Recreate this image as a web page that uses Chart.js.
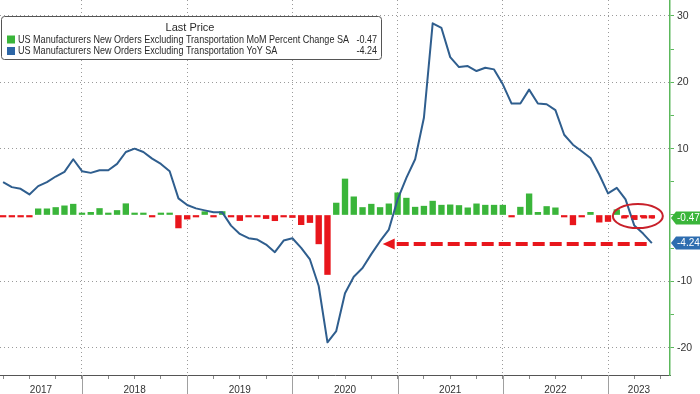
<!DOCTYPE html>
<html>
<head>
<meta charset="utf-8">
<script src="https://cdn.jsdelivr.net/npm/chart.js@4.4.1/dist/chart.umd.min.js"></script>
<style>
  html, body { margin: 0; padding: 0; background: #fff; }
  #wrap { width: 700px; height: 394px; }
</style>
</head>
<body>
<div id="wrap"><canvas id="chart" width="700" height="394"></canvas></div>
<script>
const years = ["2017", "2018", "2019", "2020", "2021", "2022", "2023"];
// x is counted in months from the start of 2017; first observation 3 months in
const firstMonth = 3;
const momChange = [
  -0.1, -0.15, -0.1, -0.15, 0.93, 0.93, 1.13, 1.38, 1.63, 0.3,
  0.4, 0.98, 0.05, 0.68, 1.7, 0.18, 0.22, -0.05, 0.15, 0.15,
  -1.95, -0.62, -0.1, 0.5, -0.27, 0.52, -0.3, -0.84, -0.24, -0.24,
  -0.54, -0.86, -0.14, -0.38, -1.46, -1.14, -4.35, -8.97, 1.8, 5.43,
  2.74, 1.13, 1.63, 1.13, 1.68, 3.34, 2.54, 1.18, 1.33, 2.09,
  1.48, 1.53, 1.43, 1.08, 1.68, 1.48, 1.48, 1.48, -0.05, 1.18,
  3.19, 0.4, 1.28, 1.08, -0.1, -1.48, -0.08, 0.4, -1.08, -0.98,
  0.8, -0.1, -0.7, -0.1, -0.47
];
const yoyChange = [
  4.95, 4.2, 3.95, 3.1, 4.35, 4.95, 5.8, 6.5, 8.4, 6.6,
  6.35, 6.75, 6.75, 7.7, 9.5, 10.0, 9.5, 8.5, 7.7, 6.6,
  2.5, 1.5, 1.0, 0.7, 0.4, 0.4, -1.6, -2.85, -3.5, -3.7,
  -4.45, -5.6, -3.85, -3.5, -4.95, -6.7, -10.7, -19.2, -17.5, -11.8,
  -9.3, -8.0, -5.9, -3.95, -2.2, 2.35, 5.6, 8.4, 14.65, 28.9,
  28.2, 23.8, 22.3, 22.45, 21.7, 22.2, 21.95, 19.7, 16.8, 16.8,
  18.9, 16.8, 16.7, 15.8, 12.1, 10.6, 9.6, 8.6, 6.1, 3.25,
  4.1, 2.35, -1.6, -2.8, -4.24
];
const seriesNames = [
  "US Manufacturers New Orders Excluding Transportation MoM Percent Change SA",
  "US Manufacturers New Orders Excluding Transportation YoY SA"
];
const yTickValues = [-20, -15, -10, -5, 0, 5, 10, 15, 20, 25, 30];

const X_MIN = 2.647, X_MAX = 79.07;
const Y_MIN = -24.12, Y_MAX = 32.41;

const GREEN = "#3ab53a";
const RED = "#e8161c";
const BLUE = "#2f5e8e";
const GRID = "#9a9a9a";
const NONE = "rgba(0,0,0,0)";
const FONT = '"Liberation Sans", Arial, sans-serif';

// year labels sit in the middle of the visible part of each year
const yearCenters = {};
years.forEach((yr, k) => {
  const start = Math.max(k * 12, X_MIN);
  const end = Math.min(k * 12 + 12, X_MAX);
  yearCenters[((start + end) / 2).toFixed(2)] = yr;
});
const xTickValues = [];
for (let m = 3; m <= X_MAX; m += 3) xTickValues.push(m);
Object.keys(yearCenters).forEach(k => {
  const v = parseFloat(k);
  if (!xTickValues.some(t => Math.abs(t - v) < 0.01)) xTickValues.push(v);
});
xTickValues.sort((a, b) => a - b);

const isBoundary = v => Math.abs(v % 12) < 0.01 && v > 0;
const isQuarter = v => Math.abs(v % 3) < 0.01;
const yearLabel = v => yearCenters[v.toFixed(2)] || "";
const tickVal = c => (c && c.tick ? c.tick.value : NaN);

const momPoints = momChange.map((v, i) => ({ x: firstMonth + i, y: v }));
const yoyPoints = yoyChange.map((v, i) => ({ x: firstMonth + i, y: v }));

Chart.defaults.font.family = FONT;
Chart.defaults.font.size = 10;
Chart.defaults.color = "#333";

const decorPlugin = {
  id: "decor",
  afterDatasetsDraw(chart) {
    const { ctx } = chart;
    const xs = chart.scales.x, ys = chart.scales.y;
    const n = momChange.length;
    const lastX = xs.getPixelForValue(firstMonth + n - 1);
    const momY = ys.getPixelForValue(momChange[n - 1]);
    const yoyY = ys.getPixelForValue(yoyChange[n - 1]);
    ctx.save();
    // short dashed line at last MoM
    ctx.strokeStyle = RED;
    ctx.lineWidth = 3;
    ctx.setLineDash([6, 4]);
    ctx.beginPath();
    ctx.moveTo(xs.getPixelForValue(firstMonth + n - 4.5), momY - 1);
    ctx.lineTo(lastX + 2, momY - 1);
    ctx.stroke();
    // circle round it
    ctx.setLineDash([]);
    ctx.strokeStyle = "#c8202a";
    ctx.lineWidth = 2;
    ctx.beginPath();
    ctx.ellipse(xs.getPixelForValue(firstMonth + n - 2.6), momY - 2, 25, 12, 0, 0, Math.PI * 2);
    ctx.stroke();
    // dashed arrow at last YoY
    const tipX = xs.getPixelForValue(firstMonth + 43.3);
    ctx.strokeStyle = RED;
    ctx.lineWidth = 4;
    ctx.setLineDash([12, 5]);
    ctx.beginPath();
    ctx.moveTo(tipX + 14, yoyY + 1);
    ctx.lineTo(lastX - 2, yoyY + 1);
    ctx.stroke();
    ctx.setLineDash([]);
    ctx.fillStyle = RED;
    ctx.beginPath();
    ctx.moveTo(tipX, yoyY + 1);
    ctx.lineTo(tipX + 12, yoyY - 4.5);
    ctx.lineTo(tipX + 12, yoyY + 6.5);
    ctx.closePath();
    ctx.fill();
    ctx.restore();
  },
  afterDraw(chart) {
    const { ctx, chartArea } = chart;
    const xs = chart.scales.x, ys = chart.scales.y;
    const n = momChange.length;
    ctx.save();
    // year separators through the label band
    ctx.strokeStyle = "#a0a0a0";
    ctx.lineWidth = 1;
    xTickValues.filter(isBoundary).forEach(v => {
      const x = Math.round(xs.getPixelForValue(v)) + 0.5;
      ctx.beginPath();
      ctx.moveTo(x, chartArea.bottom);
      ctx.lineTo(x, chart.height);
      ctx.stroke();
    });
    // last value tags on the right axis
    const tag = (value, color) => {
      const y = ys.getPixelForValue(value);
      const x0 = chartArea.right + 1;
      ctx.fillStyle = color;
      ctx.beginPath();
      ctx.moveTo(x0, y);
      ctx.lineTo(x0 + 5, y - 6.5);
      ctx.lineTo(chart.width, y - 6.5);
      ctx.lineTo(chart.width, y + 6.5);
      ctx.lineTo(x0 + 5, y + 6.5);
      ctx.closePath();
      ctx.fill();
      ctx.fillStyle = "#fff";
      ctx.font = "10px " + FONT;
      ctx.textAlign = "left";
      ctx.textBaseline = "middle";
      ctx.fillText(value.toFixed(2), x0 + 6, y + 0.5, chart.width - x0 - 6);
    };
    tag(momChange[n - 1], GREEN);
    tag(yoyChange[n - 1], "#2e6db0");

    // legend box
    ctx.fillStyle = "#fff";
    ctx.strokeStyle = "#555";
    ctx.lineWidth = 1;
    ctx.beginPath();
    ctx.roundRect(1.5, 16.5, 380, 43, 3);
    ctx.fill();
    ctx.stroke();
    ctx.fillStyle = "#2a2a2a";
    ctx.font = "11px " + FONT;
    ctx.textBaseline = "middle";
    ctx.textAlign = "center";
    ctx.fillText("Last Price", 190, 27.5);
    const sx = 331 / ctx.measureText(seriesNames[0]).width;
    const swatches = [GREEN, "#2d66a6"];
    const lastVals = [momChange[n - 1], yoyChange[n - 1]];
    seriesNames.forEach((name, k) => {
      const y = 39.5 + k * 11.5;
      ctx.fillStyle = swatches[k];
      ctx.fillRect(7, y - 4, 8, 8);
      ctx.fillStyle = "#2a2a2a";
      ctx.textAlign = "left";
      ctx.save();
      ctx.translate(18, y);
      ctx.scale(sx, 1);
      ctx.fillText(name, 0, 0);
      ctx.restore();
      ctx.textAlign = "right";
      ctx.save();
      ctx.translate(377, y);
      ctx.scale(sx, 1);
      ctx.fillText(lastVals[k].toFixed(2), 0, 0);
      ctx.restore();
    });
    ctx.restore();
  }
};

new Chart(document.getElementById("chart"), {
  data: {
    datasets: [
      {
        type: "line",
        label: seriesNames[1],
        data: yoyPoints,
        borderColor: BLUE,
        borderWidth: 2,
        pointRadius: 0,
        tension: 0,
        borderJoinStyle: "round"
      },
      {
        type: "bar",
        label: seriesNames[0],
        data: momPoints,
        backgroundColor: ctx => (ctx.raw && ctx.raw.y >= 0 ? GREEN : RED),
        barThickness: 5.7,
        minBarLength: 2
      }
    ]
  },
  options: {
    responsive: false,
    animation: false,
    devicePixelRatio: 1,
    layout: { padding: 0 },
    plugins: { legend: { display: false }, tooltip: { enabled: false } },
    scales: {
      x: {
        type: "linear",
        offset: false,
        min: X_MIN,
        max: X_MAX,
        afterBuildTicks: scale => { scale.ticks = xTickValues.map(v => ({ value: v })); },
        afterFit: scale => {
          scale.height = 19;
          scale.paddingLeft = 0; scale.paddingRight = 0;
        },
        ticks: {
          autoSkip: false,
          maxRotation: 0,
          padding: 5,
          color: "#333",
          font: { size: 10 },
          callback: v => yearLabel(v)
        },
        grid: {
          offset: false,
          color: c => (isBoundary(tickVal(c)) ? GRID : NONE),
          tickColor: c => (isQuarter(tickVal(c)) ? "#888" : NONE),
          tickLength: 4,
          lineWidth: 1
        },
        border: { display: true, color: "#555", width: 1, dash: [1, 3] }
      },
      y: {
        type: "linear",
        position: "right",
        min: Y_MIN,
        max: Y_MAX,
        afterBuildTicks: scale => { scale.ticks = yTickValues.map(v => ({ value: v })); },
        afterFit: scale => {
          scale.width = 30;
          scale.paddingTop = 0; scale.paddingBottom = 0;
        },
        ticks: {
          padding: 3,
          color: "#333",
          font: { size: 10.5 },
          callback: v => (v % 10 === 0 && v !== 0 ? String(v) : "")
        },
        grid: {
          color: c => {
            const v = tickVal(c);
            return v % 10 === 0 && v !== 0 ? GRID : NONE;
          },
          tickColor: "#5cb85c",
          tickLength: 4,
          lineWidth: 1
        },
        border: { display: true, color: "#5cb85c", width: 1.5, dash: [1, 3] }
      }
    }
  },
  plugins: [decorPlugin]
});
</script>
</body>
</html>
